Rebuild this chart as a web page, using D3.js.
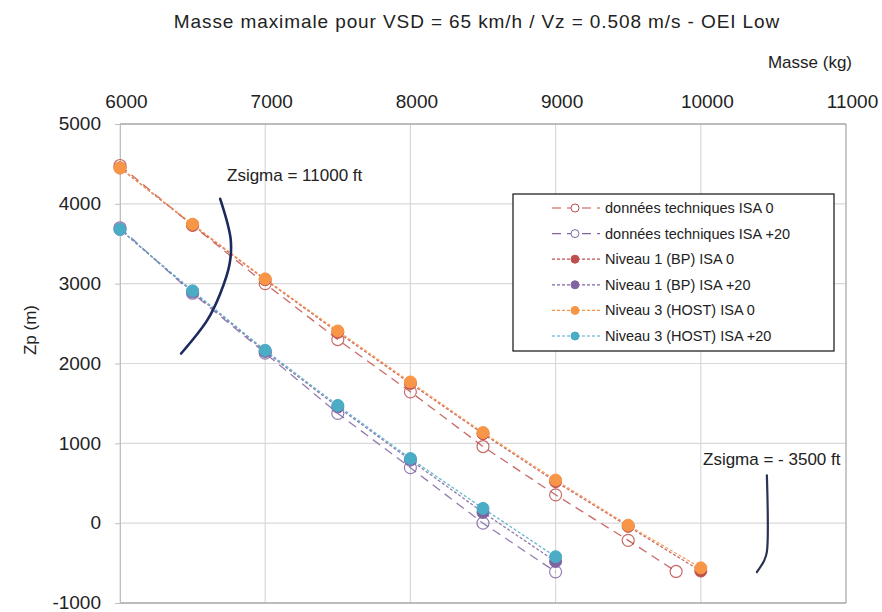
<!DOCTYPE html>
<html><head><meta charset="utf-8">
<script src="https://cdn.jsdelivr.net/npm/d3@7"></script>
<style>
body{margin:0;background:#fff;}
text{font-family:"Liberation Sans",Arial,sans-serif;fill:#222;}
</style></head>
<body><svg id="c" width="882" height="612"></svg>
<script>
const massAll = [6000,6500,7000,7500,8000,8500,9000,9500,10000];
const massTech0 = [6000,6500,7000,7500,8000,8500,9000,9500,9830];
const massIsa20 = [6000,6500,7000,7500,8000,8500,9000];
const techIsa0 = [4480,3730,3000,2300,1645,960,355,-215,-605];
const techIsa20 = [3700,2880,2130,1375,695,0,-610];
const bpIsa0 = [4450,3735,3050,2390,1750,1120,520,-40,-600];
const bpIsa20 = [3680,2895,2150,1455,790,135,-480];
const hostIsa0 = [4450,3745,3060,2408,1768,1135,540,-25,-560];
const hostIsa20 = [3680,2910,2165,1475,810,185,-420];
const xTicks = [6000,7000,8000,9000,10000,11000];
const yTicks = [-1000,0,1000,2000,3000,4000,5000];
const seriesNames = ["données techniques ISA 0","données techniques ISA +20","Niveau 1 (BP) ISA 0","Niveau 1 (BP) ISA +20","Niveau 3 (HOST) ISA 0","Niveau 3 (HOST) ISA +20"];
const curve11000 = [[6690,4063],[6762,3560],[6755,3250],[6690,2875],[6600,2540],[6421,2125]];
const curve3500 = [[10455,600],[10455,-360],[10436,-470],[10386,-612]];

const svg = d3.select("#c");
const L=120,R=846,T=124,B=603;
const x = d3.scaleLinear().domain([6000,11000]).range([L,R]);
const y = d3.scaleLinear().domain([-1000,5000]).range([B,T]);
const fmt = d => String(d);

// gridlines
svg.append("g").selectAll("line.v").data(xTicks).join("line")
  .attr("x1",d=>x(d)).attr("x2",d=>x(d)).attr("y1",T).attr("y2",B)
  .attr("stroke","#d9d9d9").attr("stroke-width",1.2);
svg.append("g").selectAll("line.h").data(yTicks).join("line")
  .attr("x1",L).attr("x2",R).attr("y1",d=>y(d)).attr("y2",d=>y(d))
  .attr("stroke","#d9d9d9").attr("stroke-width",1.2);
// frame
svg.append("line").attr("x1",L).attr("x2",R).attr("y1",T).attr("y2",T).attr("stroke","#8c8c8c");
svg.append("line").attr("x1",L).attr("x2",R).attr("y1",B).attr("y2",B).attr("stroke","#8c8c8c");
svg.append("line").attr("x1",R).attr("x2",R).attr("y1",T).attr("y2",B).attr("stroke","#a6a6a6");

// axes
const ya = svg.append("g").attr("transform",`translate(${L},0)`)
  .call(d3.axisLeft(y).tickValues(yTicks).tickFormat(fmt).tickSize(5).tickPadding(14));
ya.select(".domain").attr("stroke","#bfbfbf");
ya.selectAll(".tick line").attr("stroke","#bfbfbf");
ya.selectAll("text").style("font-size","19px").attr("fill","#222").attr("dy","0.3em");
const xa = svg.append("g").attr("transform",`translate(0,${T})`)
  .call(d3.axisTop(x).tickValues(xTicks).tickFormat(fmt).tickSize(0).tickPadding(16));
xa.select(".domain").remove();
xa.selectAll("text").style("font-size","19px").attr("fill","#222").attr("dx",6);

svg.append("text").attr("x",477).attr("y",28).attr("text-anchor","middle").style("font-size","19px").style("letter-spacing","0.9px").text("Masse maximale pour VSD = 65 km/h / Vz = 0.508 m/s - OEI Low");
svg.append("text").attr("x",852).attr("y",68).attr("text-anchor","end").style("font-size","17px").text("Masse (kg)");
svg.append("text").attr("transform","translate(36,330) rotate(-90)").attr("text-anchor","middle").style("font-size","17px").text("Zp (m)");

const series = [
  {name:seriesNames[0],xs:massTech0,ys:techIsa0,color:"#c0504d",open:true,dash:"9,6"},
  {name:seriesNames[1],xs:massIsa20,ys:techIsa20,color:"#8064a2",open:true,dash:"9,6"},
  {name:seriesNames[2],xs:massAll,ys:bpIsa0,color:"#c0504d",open:false,dash:"3,2"},
  {name:seriesNames[3],xs:massIsa20,ys:bpIsa20,color:"#8064a2",open:false,dash:"3,2"},
  {name:seriesNames[4],xs:massAll,ys:hostIsa0,color:"#f79646",open:false,dash:"3,2"},
  {name:seriesNames[5],xs:massIsa20,ys:hostIsa20,color:"#4bacc6",open:false,dash:"3,2"}
];
const line = d3.line().x(d=>x(d[0])).y(d=>y(d[1]));
series.forEach(s=>{
  const pts = s.xs.map((m,i)=>[m,s.ys[i]]);
  const g = svg.append("g");
  g.append("path").attr("d",line(pts)).attr("fill","none").attr("stroke",s.color)
    .attr("stroke-width",1.3).attr("stroke-dasharray",s.dash).attr("opacity",0.85);
  g.selectAll("circle").data(pts).join("circle")
    .attr("cx",d=>x(d[0])).attr("cy",d=>y(d[1])).attr("r",6)
    .attr("fill",s.open?"none":s.color).attr("stroke",s.color).attr("stroke-width",s.open?1.2:1)
    .attr("opacity",s.open?0.85:1);
});

// annotations
const cl = d3.line().x(d=>x(d[0])).y(d=>y(d[1])).curve(d3.curveCatmullRom);
svg.append("path").attr("d",cl(curve11000)).attr("fill","none").attr("stroke","#1c2a5c").attr("stroke-width",2.6).attr("stroke-linecap","round");
svg.append("path").attr("d",cl(curve3500)).attr("fill","none").attr("stroke","#2a3350").attr("stroke-width",2.2).attr("stroke-linecap","round");
svg.append("text").attr("x",227).attr("y",181).style("font-size","17px").text("Zsigma = 11000  ft");
svg.append("text").attr("x",703).attr("y",465).style("font-size","17px").text("Zsigma = - 3500 ft");

// legend
const lg = svg.append("g");
lg.append("rect").attr("x",513).attr("y",194).attr("width",321).attr("height",157).attr("fill","#fff").attr("stroke","#111").attr("stroke-width",1.2);
series.forEach((s,i)=>{
  const cy = 208 + i*25.6;
  lg.append("line").attr("x1",552).attr("x2",600).attr("y1",cy).attr("y2",cy).attr("stroke",s.color).attr("stroke-width",1.2).attr("stroke-dasharray",s.open?"9,6":"3,2");
  lg.append("circle").attr("cx",575).attr("cy",cy).attr("r",4).attr("fill",s.open?"#fff":s.color).attr("stroke",s.color);
  lg.append("text").attr("x",605).attr("y",cy+5).style("font-size","14.5px").text(s.name);
});
</script></body></html>
